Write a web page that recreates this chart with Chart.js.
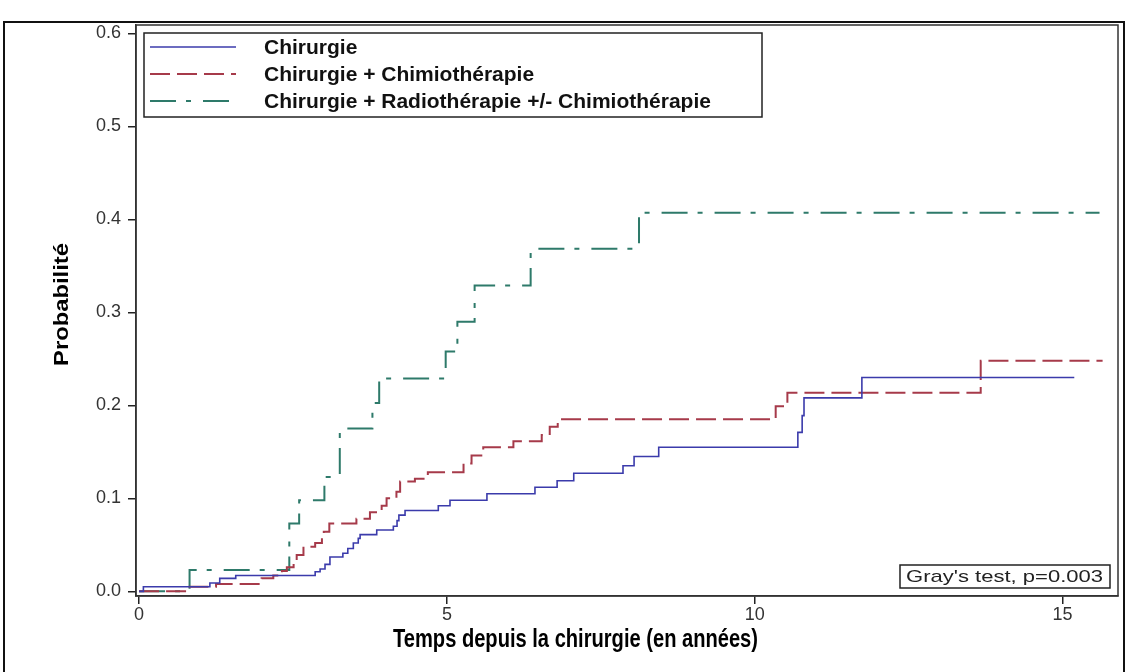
<!DOCTYPE html>
<html>
<head>
<meta charset="utf-8">
<script src="https://cdn.jsdelivr.net/npm/chart.js@4.4.1/dist/chart.umd.min.js"></script>
<style>
  html, body { margin: 0; padding: 0; background: #fff; }
  canvas { display: block; }
</style>
</head>
<body>
<canvas id="chart" width="1128" height="672"></canvas>
<script>
// series names
const seriesNames = ['Chirurgie', 'Chirurgie + Chimiothérapie', 'Chirurgie + Radiothérapie +/- Chimiothérapie'];

// Chirurgie (step function: time in years, cumulative probability)
const chirTimes = [0, 0.07, 1.15, 1.31, 1.57, 2.86, 2.94, 3.02, 3.10, 3.31, 3.39, 3.48, 3.56, 3.59, 3.86, 4.13, 4.19, 4.22, 4.32, 4.86, 5.05, 5.65, 6.43, 6.79, 7.06, 7.86, 8.04, 8.44, 10.70, 10.77, 10.80, 11.74, 15.19];
const chirProb  = [0, 0.005, 0.009, 0.014, 0.017, 0.021, 0.024, 0.029, 0.037, 0.041, 0.046, 0.052, 0.057, 0.061, 0.066, 0.070, 0.076, 0.082, 0.087, 0.092, 0.098, 0.105, 0.112, 0.119, 0.127, 0.135, 0.145, 0.155, 0.171, 0.189, 0.208, 0.230, 0.230];

// Chirurgie + Chimiothérapie
const chimioTimes = [0, 0.82, 1.25, 1.99, 2.18, 2.32, 2.40, 2.51, 2.56, 2.67, 2.86, 2.97, 3.00, 3.09, 3.53, 3.75, 3.94, 4.02, 4.18, 4.24, 4.48, 4.69, 5.27, 5.40, 5.59, 6.08, 6.54, 6.67, 6.80, 10.34, 10.53, 13.67, 15.65];
const chimioProb  = [0, 0.005, 0.008, 0.014, 0.017, 0.022, 0.026, 0.033, 0.039, 0.048, 0.052, 0.058, 0.064, 0.073, 0.078, 0.085, 0.092, 0.100, 0.107, 0.118, 0.121, 0.128, 0.1375, 0.146, 0.155, 0.1615, 0.168, 0.177, 0.185, 0.199, 0.2136, 0.248, 0.248];

// Chirurgie + Radiothérapie +/- Chimiothérapie
const radioTimes = [0, 0.82, 2.44, 2.60, 3.01, 3.26, 3.79, 3.90, 4.98, 5.17, 5.45, 6.36, 8.12, 15.6];
const radioProb  = [0, 0.023, 0.073, 0.098, 0.123, 0.175, 0.2025, 0.229, 0.258, 0.290, 0.329, 0.3685, 0.407, 0.407];

// axes
const xTickValues = [0, 5, 10, 15];
const xTickLabels = ['0', '5', '10', '15'];
const yTickValues = [0, 0.1, 0.2, 0.3, 0.4, 0.5, 0.6];
const yTickLabels = ['0.0', '0.1', '0.2', '0.3', '0.4', '0.5', '0.6'];

const xTitle = 'Temps depuis la chirurgie (en années)';
const yTitle = 'Probabilité';
const testLabel = "Gray's test, p=0.003";

function toPoints(times, probs) {
  return times.map((t, i) => ({ x: t, y: probs[i] }));
}

// draws text squeezed/stretched to a given width
function fitText(ctx, text, x, y, w) {
  const m = ctx.measureText(text).width;
  ctx.save();
  ctx.translate(x, y);
  ctx.scale(w / m, 1);
  ctx.fillText(text, 0, 0);
  ctx.restore();
}

const decorations = {
  id: 'decorations',
  beforeDraw(chart) {
    const ctx = chart.ctx;
    ctx.save();
    ctx.fillStyle = '#fff';
    ctx.fillRect(0, 0, chart.width, chart.height);
    ctx.strokeStyle = '#111';
    ctx.lineWidth = 2;
    ctx.strokeRect(4, 22, 1120, 670);
    ctx.restore();
  },
  afterDraw(chart) {
    const ctx = chart.ctx;
    const a = chart.chartArea;
    ctx.save();

    // plot frame
    ctx.strokeStyle = '#333';
    ctx.lineWidth = 1.5;
    ctx.strokeRect(a.left, a.top, a.right - a.left, a.bottom - a.top);

    // legend box
    ctx.fillStyle = '#fff';
    ctx.fillRect(144, 33, 618, 84);
    ctx.strokeStyle = '#222';
    ctx.lineWidth = 1.5;
    ctx.strokeRect(144, 33, 618, 84);
    const rowY = [47, 74, 101];
    chart.data.datasets.forEach((ds, i) => {
      ctx.strokeStyle = ds.borderColor;
      ctx.lineWidth = ds.borderWidth;
      ctx.setLineDash(ds.borderDash || []);
      ctx.beginPath();
      ctx.moveTo(150, rowY[i]);
      ctx.lineTo(236, rowY[i]);
      ctx.stroke();
      ctx.setLineDash([]);
      ctx.fillStyle = '#111';
      ctx.font = 'bold 21px "Liberation Sans", Arial, sans-serif';
      ctx.textBaseline = 'middle';
      ctx.textAlign = 'left';
      ctx.fillText(seriesNames[i], 264, rowY[i] + 1);
    });

    // Gray's test box
    ctx.fillStyle = '#fff';
    ctx.fillRect(900, 565, 210, 23);
    ctx.strokeStyle = '#222';
    ctx.lineWidth = 1.5;
    ctx.strokeRect(900, 565, 210, 23);
    ctx.fillStyle = '#222';
    ctx.font = '17px "Liberation Sans", Arial, sans-serif';
    ctx.textBaseline = 'middle';
    fitText(ctx, testLabel, 906, 577, 197);

    // axis titles
    ctx.fillStyle = '#000';
    ctx.font = 'bold 25px "Liberation Sans", Arial, sans-serif';
    ctx.textAlign = 'left';
    ctx.textBaseline = 'middle';
    fitText(ctx, xTitle, 393, 640, 365);

    ctx.save();
    ctx.translate(62, 305);
    ctx.rotate(-Math.PI / 2);
    ctx.font = 'bold 20px "Liberation Sans", Arial, sans-serif';
    fitText(ctx, yTitle, -61, 0, 123);
    ctx.restore();

    ctx.restore();
  }
};

Chart.defaults.font.family = '"Liberation Sans", Arial, sans-serif';

new Chart(document.getElementById('chart'), {
  type: 'line',
  data: {
    datasets: [
      {
        label: seriesNames[0],
        data: toPoints(chirTimes, chirProb),
        borderColor: '#3b3bab',
        borderWidth: 1.6,
        stepped: 'before',
        pointRadius: 0,
        fill: false
      },
      {
        label: seriesNames[1],
        data: toPoints(chimioTimes, chimioProb),
        borderColor: '#a63a4a',
        borderWidth: 2,
        borderDash: [20, 7],
        stepped: 'before',
        pointRadius: 0,
        fill: false
      },
      {
        label: seriesNames[2],
        data: toPoints(radioTimes, radioProb),
        borderColor: '#2e7a6a',
        borderWidth: 2,
        borderDash: [26, 10, 5, 12],
        stepped: 'before',
        pointRadius: 0,
        fill: false
      }
    ]
  },
  options: {
    responsive: false,
    animation: false,
    events: [],
    layout: { padding: { top: 25, right: 10, left: 0, bottom: 0 } },
    plugins: {
      legend: { display: false },
      tooltip: { enabled: false },
      title: { display: false }
    },
    scales: {
      x: {
        type: 'linear',
        min: -0.05,
        max: 15.9,
        afterFit(scale) { scale.height = 76; },
        afterBuildTicks(scale) { scale.ticks = xTickValues.map(v => ({ value: v })); },
        ticks: {
          callback: (v, i) => xTickLabels[i],
          font: { size: 18 },
          color: '#333',
          padding: 0,
          maxRotation: 0
        },
        grid: { drawOnChartArea: false, drawTicks: true, tickLength: 8, color: '#222', lineWidth: 1.5 },
        border: { display: true, color: '#333', width: 1.5 }
      },
      y: {
        type: 'linear',
        min: -0.005,
        max: 0.609,
        afterFit(scale) { scale.width = 136; },
        afterBuildTicks(scale) { scale.ticks = yTickValues.map(v => ({ value: v })); },
        ticks: {
          callback: (v, i) => yTickLabels[i],
          font: { size: 18 },
          color: '#333',
          padding: 7
        },
        grid: { drawOnChartArea: false, drawTicks: true, tickLength: 8, color: '#222', lineWidth: 1.5 },
        border: { display: true, color: '#333', width: 1.5 }
      }
    }
  },
  plugins: [decorations]
});
</script>
</body>
</html>
